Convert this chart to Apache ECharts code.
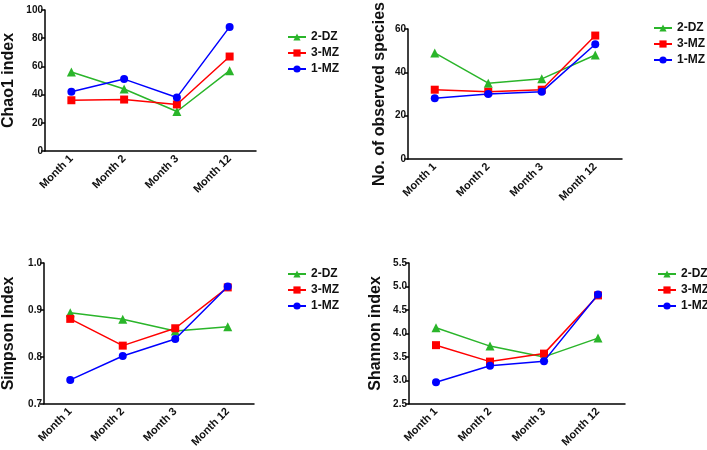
<!DOCTYPE html>
<html>
<head>
<meta charset="utf-8">
<script src="https://cdn.jsdelivr.net/npm/echarts@6/dist/echarts.min.js"></script>
<style>html,body{margin:0;padding:0;background:#fff}#c{width:707px;height:450px}</style>
</head>
<body>
<div id="c"></div>
<script>
var categories = ['Month 1', 'Month 2', 'Month 3', 'Month 12'];
var seriesNames = ['2-DZ', '3-MZ', '1-MZ'];

var chao1_2DZ = [56, 44, 28, 57];
var chao1_3MZ = [36, 36.5, 33, 67];
var chao1_1MZ = [42, 51, 38, 88];

var obs_2DZ = [49, 35, 37, 48];
var obs_3MZ = [32, 31, 32, 57];
var obs_1MZ = [28, 30, 31, 53];

var simpson_2DZ = [0.894, 0.880, 0.855, 0.864];
var simpson_3MZ = [0.881, 0.824, 0.861, 0.948];
var simpson_1MZ = [0.751, 0.802, 0.838, 0.950];

var shannon_2DZ = [4.12, 3.73, 3.50, 3.90];
var shannon_3MZ = [3.75, 3.40, 3.57, 4.81];
var shannon_1MZ = [2.96, 3.31, 3.41, 4.83];

var yTitles = ['Chao1 index', 'No. of observed species', 'Simpson Index', 'Shannon index'];

var FONT = 'Liberation Sans, Arial, sans-serif';
var colors = ['#2ab52a', '#ff0000', '#0000ff'];
var symbols = ['triangle', 'rect', 'circle'];

var panels = [
  {data: [chao1_2DZ, chao1_3MZ, chao1_1MZ], min: 0, max: 100, interval: 20, dec: 0,
   grid: {left: 42, top: 10, width: 214, height: 141}, nameGap: 28, legend: {left: 287, top: 31}},
  {data: [obs_2DZ, obs_3MZ, obs_1MZ], min: 0, max: 60, interval: 20, dec: 0,
   grid: {left: 408, top: 17, width: 214, height: 142}, nameGap: 20, legend: {left: 653, top: 22}},
  {data: [simpson_2DZ, simpson_3MZ, simpson_1MZ], min: 0.7, max: 1.0, interval: 0.1, dec: 1,
   grid: {left: 41, top: 263, width: 213, height: 141}, nameGap: 27, legend: {left: 287, top: 268}},
  {data: [shannon_2DZ, shannon_3MZ, shannon_1MZ], min: 2.5, max: 5.5, interval: 0.5, dec: 1,
   grid: {left: 409, top: 263, width: 216, height: 142}, nameGap: 25, legend: {left: 657, top: 268}}
];

var grids = [], xAxes = [], yAxes = [], series = [], legends = [];
panels.forEach(function (p, i) {
  grids.push(Object.assign({containLabel: false}, p.grid));
  xAxes.push({
    type: 'category', gridIndex: i, data: categories, boundaryGap: true,
    axisLine: {lineStyle: {color: '#000', width: 1.5}},
    axisTick: {alignWithLabel: true, length: 4, lineStyle: {color: '#000', width: 1.5}},
    axisLabel: {rotate: 45, color: '#111', fontFamily: FONT, fontWeight: 'bold', fontSize: 11, margin: 6, interval: 0},
    splitLine: {show: false}
  });
  yAxes.push({
    type: 'value', gridIndex: i, min: p.min, max: p.max, interval: p.interval,
    name: yTitles[i], nameLocation: 'middle', nameGap: p.nameGap,
    nameTextStyle: {fontFamily: FONT, fontWeight: 'bold', fontSize: 16, color: '#111'},
    axisLine: {show: true, lineStyle: {color: '#000', width: 1.5}},
    axisTick: {show: true, length: 4, lineStyle: {color: '#000', width: 1.5}},
    axisLabel: {color: '#111', fontFamily: FONT, fontWeight: 'bold', fontSize: 10, margin: 2,
      formatter: (function (d) { return function (v) { return Number(v).toFixed(d); }; })(p.dec)},
    splitLine: {show: false}
  });
  p.data.forEach(function (arr, k) {
    series.push({
      type: 'line', name: seriesNames[k], xAxisIndex: i, yAxisIndex: i, data: arr,
      symbol: symbols[k], symbolSize: k === 0 ? 9 : 8,
      lineStyle: {color: colors[k], width: 1.5},
      itemStyle: {color: colors[k]},
      animation: false, z: 2 + k
    });
  });
  legends.push({
    left: p.legend.left, top: p.legend.top, orient: 'vertical', padding: 0,
    data: seriesNames, itemWidth: 18, itemHeight: 9, itemGap: 4,
    textStyle: {fontFamily: FONT, fontWeight: 'bold', fontSize: 12, color: '#111'},
    selectedMode: false
  });
});

var chart = echarts.init(document.getElementById('c'), null, {renderer: 'canvas'});
chart.setOption({
  backgroundColor: '#fff',
  animation: false,
  grid: grids, xAxis: xAxes, yAxis: yAxes, series: series, legend: legends
});
</script>
</body>
</html>
